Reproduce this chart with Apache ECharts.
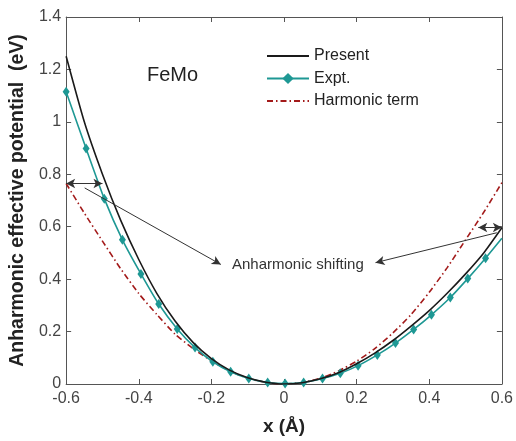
<!DOCTYPE html>
<html>
<head>
<meta charset="utf-8">
<script src="https://cdn.jsdelivr.net/npm/echarts@6/dist/echarts.min.js"></script>
<style>html,body{margin:0;padding:0;background:#fff}#c{width:516px;height:441px}</style>
</head>
<body>
<div id="c"></div>
<script>
// ---- data ----
const xPresent = [-0.6,-0.55,-0.5,-0.45,-0.4,-0.35,-0.3,-0.25,-0.2,-0.15,-0.1,-0.05,0,0.05,0.1,0.15,0.2,0.25,0.3,0.35,0.4,0.45,0.5,0.55,0.6];
const yPresent = [1.25,1.0,0.80,0.625,0.475,0.345,0.24,0.158,0.097,0.053,0.024,0.007,0,0.005,0.02,0.043,0.077,0.118,0.166,0.221,0.28,0.347,0.42,0.5,0.596];
const xExpt = [-0.6,-0.545,-0.495,-0.445,-0.394,-0.345,-0.294,-0.245,-0.196,-0.147,-0.097,-0.045,0.003,0.054,0.106,0.155,0.204,0.257,0.307,0.357,0.406,0.458,0.506,0.555,0.6];
const yExpt = [1.115,0.898,0.707,0.55,0.42,0.305,0.21,0.139,0.085,0.047,0.021,0.006,0.002,0.006,0.021,0.041,0.07,0.111,0.156,0.208,0.264,0.33,0.402,0.48,0.556];
const xHarm = [-0.6,-0.55,-0.5,-0.45,-0.4,-0.35,-0.3,-0.25,-0.2,-0.15,-0.1,-0.05,0,0.05,0.1,0.15,0.2,0.25,0.3,0.35,0.4,0.45,0.5,0.55,0.6];
const yHarm = [0.765,0.652,0.545,0.44,0.345,0.265,0.19,0.135,0.088,0.05,0.022,0.006,0,0.006,0.022,0.05,0.087,0.135,0.195,0.265,0.35,0.445,0.55,0.655,0.768];
const seriesNames = ['Present','Expt.','Harmonic term'];
const xTicks = {min:-0.6, max:0.6, interval:0.2};
const yTicks = {min:0, max:1.4, interval:0.2};
// annotation arrows (data coordinates): [x1,y1,x2,y2,arrowAtStart,arrowAtEnd]
const arrows = [
  [-0.6, 0.765, -0.5, 0.765, true, true],
  [-0.549, 0.748, -0.174, 0.456, false, true],
  [0.535, 0.597, 0.6, 0.597, true, true],
  [0.586, 0.577, 0.252, 0.463, false, true]
];
const labelText = 'Anharmonic shifting';
const alloyText = 'FeMo';

const FONT = 'Liberation Sans, Arial, sans-serif';
const zip = (xs, ys) => xs.map((x, i) => [x, ys[i]]);

const chart = echarts.init(document.getElementById('c'), null, {renderer: 'canvas'});

const exptData = zip(xExpt, yExpt).map((p, i, a) => i === a.length - 1 ? {value: p, symbol: 'none'} : p);

const markLineData = arrows.map(a => [
  {coord: [a[0], a[1]], symbol: a[4] ? 'arrow' : 'none'},
  {coord: [a[2], a[3]], symbol: a[5] ? 'arrow' : 'none'}
]);

const axisCommon = {
  type: 'value',
  axisLine: {show: true, onZero: false, lineStyle: {color: '#555', width: 1}},
  axisTick: {show: true, inside: true, length: 5, lineStyle: {color: '#555'}},
  splitLine: {show: false}
};

chart.setOption({
  backgroundColor: '#fff',
  animation: false,
  grid: {left: 63, right: 11, top: 17, bottom: 56},
  legend: {
    orient: 'vertical', left: 266, top: 48, padding: 0, itemWidth: 42, itemHeight: 14, itemGap: 6.5,
    textStyle: {fontFamily: FONT, fontSize: 16, color: '#222'},
    data: [
      {name: seriesNames[0], itemStyle: {opacity: 0}},
      {name: seriesNames[1]},
      {name: seriesNames[2], itemStyle: {opacity: 0}}
    ]
  },
  xAxis: [
    Object.assign({}, axisCommon, xTicks, {
      position: 'bottom', name: 'x (Å)', nameLocation: 'middle', nameGap: 33,
      nameTextStyle: {fontFamily: FONT, fontSize: 19, fontWeight: 'bold', color: '#222'},
      axisLabel: {fontFamily: FONT, fontSize: 16, color: '#444', margin: 7}
    }),
    Object.assign({}, axisCommon, xTicks, {position: 'top', axisLabel: {show: false}})
  ],
  yAxis: [
    Object.assign({}, axisCommon, yTicks, {
      position: 'left', name: 'Anharmonic effective potential  (eV)', nameLocation: 'middle', nameGap: 35,
      nameTextStyle: {fontFamily: FONT, fontSize: 19.5, fontWeight: 'bold', color: '#222'},
      axisLabel: {fontFamily: FONT, fontSize: 16, color: '#444', margin: 5}
    }),
    Object.assign({}, axisCommon, yTicks, {position: 'right', axisLabel: {show: false}})
  ],
  series: [
    {
      name: seriesNames[2], type: 'line', symbol: 'none', smooth: 0.2,
      data: zip(xHarm, yHarm),
      lineStyle: {color: '#a31a1a', width: 1.6, type: [6, 3, 1.5, 3]},
      itemStyle: {color: '#a31a1a'}, z: 2
    },
    {
      name: seriesNames[1], type: 'line', symbol: 'diamond', symbolSize: [7, 10], smooth: 0.2,
      data: exptData,
      lineStyle: {color: '#1e9894', width: 1.6},
      itemStyle: {color: '#1e9894'}, z: 3
    },
    {
      name: seriesNames[0], type: 'line', symbol: 'none', smooth: 0.2,
      data: zip(xPresent, yPresent),
      lineStyle: {color: '#1a1a1a', width: 1.6},
      itemStyle: {color: '#1a1a1a'}, z: 4,
      markLine: {
        silent: true, symbolSize: [7, 9], precision: 3,
        label: {show: false},
        lineStyle: {color: '#333', width: 1, type: 'solid'},
        emphasis: {disabled: true},
        data: markLineData
      }
    }
  ],
  graphic: [
    {type: 'text', left: 147, top: 65, style: {text: alloyText, font: '20px ' + FONT, fill: '#222'}},
    {type: 'text', left: 232, top: 257, style: {text: labelText, font: '15px ' + FONT, fill: '#333'}}
  ]
});
</script>
</body>
</html>
